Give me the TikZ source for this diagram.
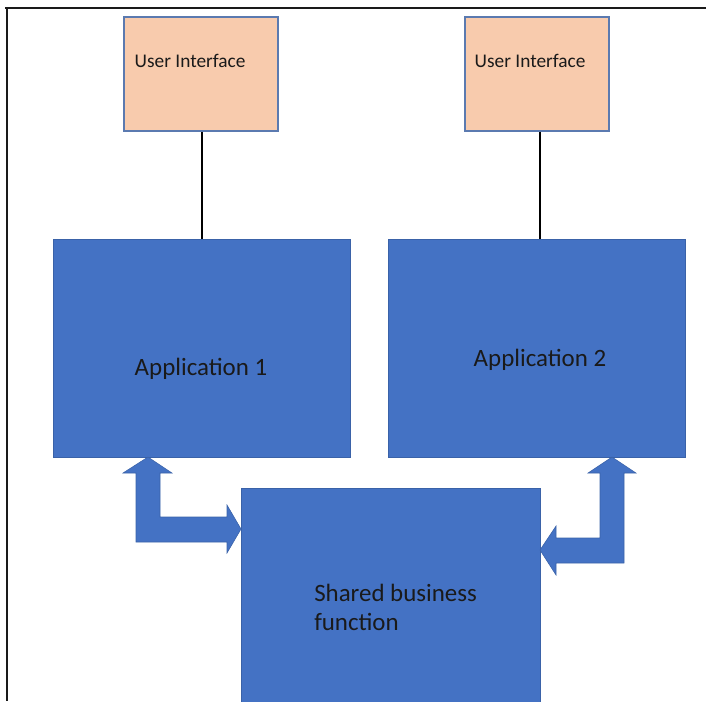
\documentclass[tikz,border=0pt]{standalone}
\usepackage{fontspec}
\setmainfont{Carlito}
\usepackage{tikz}
\usetikzlibrary{positioning,calc}
\definecolor{ink}{HTML}{1A1A1A}
\definecolor{azul}{HTML}{4472C4}
\definecolor{borde}{HTML}{3A62A8}
\definecolor{salmon}{HTML}{F8CBAD}
\definecolor{gris}{HTML}{5B7AB0}
\tikzset{
  interfaz/.style={draw=gris,fill=salmon,line width=0.8pt,inner sep=0pt},
  bloque/.style={draw=borde,fill=azul,line width=0.5pt,inner sep=0pt},
  texto/.style={color=ink,inner sep=0pt},
  linea/.style={draw=black,line width=1.5pt},
  flechab/.style={fill=azul,draw=borde,line width=0.4pt,line join=miter},
}

\begin{document}
\begin{tikzpicture}[x=0.75pt,y=-0.75pt]
  \useasboundingbox (0,0) rectangle (706,701);
  % marco
  \draw[ink,line width=2.2pt] (5,8) -- (706,8);
  \draw[ink,line width=2.2pt] (7,8) -- (7,701);
  % cajas
  \node[interfaz,minimum width=115.5pt,minimum height=85.5pt] (ui1) at (201,74) {};
  \node[interfaz,minimum width=108pt,minimum height=85.5pt] (ui2) at (537,74) {};
  \node[bloque,minimum width=222.75pt,minimum height=163.5pt] (app1) at (201.5,348) {};
  \node[bloque,minimum width=222.75pt,minimum height=163.5pt] (app2) at (536.5,348) {};
  \node[bloque,minimum width=224.25pt,minimum height=165pt,anchor=north] (shared) at (390.5,488) {};
  % textos
  \node[texto,anchor=west,font=\fontsize{14.5}{17}\selectfont] (t1) at ($(ui1.west)+(11,-13)$) {User Interface};
  \node[texto,anchor=west,font=\fontsize{14.5}{17}\selectfont] (t2) at ($(ui2.west)+(10,-13)$) {User Interface};
  \node[texto,font=\fontsize{18.7}{21}\selectfont] (t3) at (201,369) {Application 1};
  \node[texto,font=\fontsize{18.7}{21}\selectfont] (t4) at (540,360) {Application 2};
  \node[texto,anchor=north west,align=left,font=\fontsize{18.7}{21.75}\selectfont] (t5) at (314,584) {Shared business\\function};
  % conectores
  \coordinate (c1) at ($(ui1.south)+(0.5,0)$);
  \coordinate (c2) at ($(ui2.south)+(3,0)$);
  \draw[linea] (c1) -- (c1 |- app1.north);
  \draw[linea] (c2) -- (c2 |- app2.north);
  % flechas de bloque
  \path[flechab] (148,457) -- (172,473) -- (160,473) -- (160,517) -- (227,517) -- (227,505)
    -- (241,529) -- (227,553) -- (227,542) -- (136,542) -- (136,473) -- (123,473) -- cycle;
  \path[flechab] (612,457) -- (636,473) -- (624,473) -- (624,563) -- (556,563) -- (556,575)
    -- (540,550) -- (556,526) -- (556,538) -- (600,538) -- (600,473) -- (588,473) -- cycle;
\end{tikzpicture}
\end{document}
